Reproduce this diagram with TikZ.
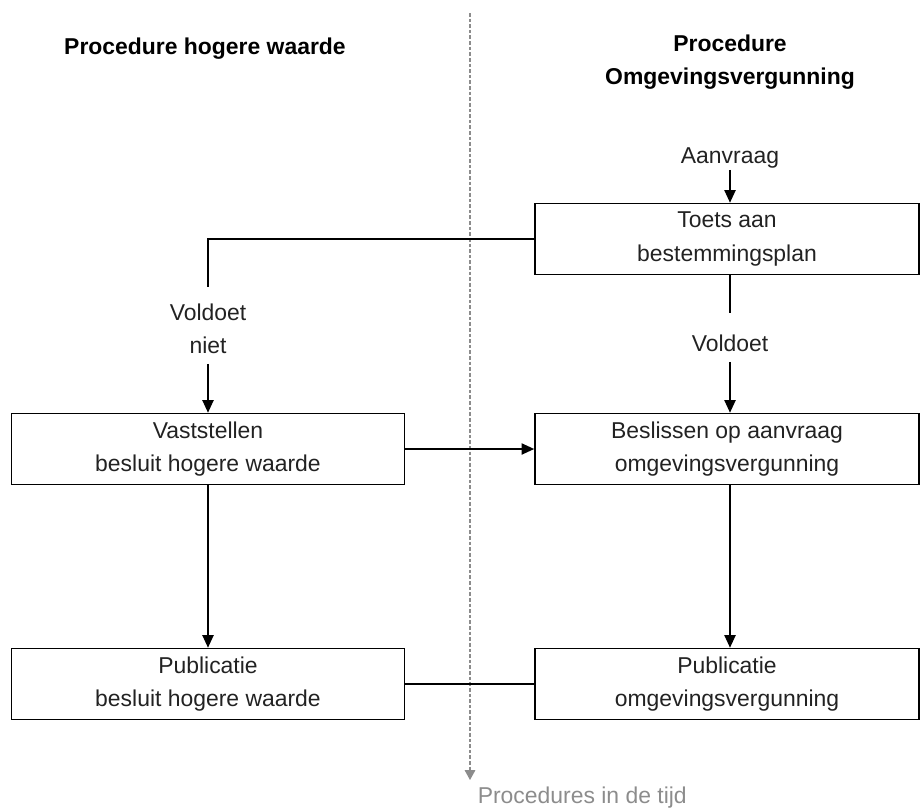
\documentclass[tikz,border=0pt]{standalone}
\usepackage{fontspec}
\setmainfont{Liberation Sans}
\usetikzlibrary{arrows.meta}
\definecolor{tekst}{HTML}{222222}
\definecolor{tijdlijn}{HTML}{8C8C8C}
\begin{document}
\begin{tikzpicture}[x=0.025cm, y=-0.025cm, line width=1.1pt,
  >={Triangle[length=9pt,width=8pt]},
  every node/.style={font=\fontsize{16.3}{23.5}\selectfont, text=tekst, align=center},
  titel/.style={font=\fontsize{16.3}{23.5}\selectfont\bfseries, text=black},
  blok/.style={draw, minimum height=1.775cm, inner sep=0pt},
  blokL/.style={blok, minimum width=9.825cm},
  blokR/.style={blok, minimum width=9.6cm},
  keuze/.style={inner sep=6.8pt}]
  \useasboundingbox (0,0) rectangle (920,809);

  \coordinate (tijdBegin) at (470,13);
  \coordinate (tijdEind)  at (470,780);
  \node [text=tijdlijn, anchor=west, inner sep=0pt] (tijd) at (477,798) {Procedures in de tijd};
  \draw [tijdlijn, line width=0.8pt, dash pattern=on 2.5pt off 1.5pt,
         -{Triangle[length=7pt,width=7.5pt]}] (tijdBegin) -- (tijdEind);

  \node [titel] (titelHW) at (205,49) {Procedure hogere waarde};
  \node [titel] (titelOV) at (730,62) {Procedure\\Omgevingsvergunning};

  \node [inner sep=1pt] (aanvraag) at (730,157.5) {Aanvraag};
  \node [blokR] (toets)       at (727,239)   {Toets aan\\bestemmingsplan};
  \node [keuze] (nietOk)      at (208,328.5) {Voldoet\\niet};
  \node [keuze] (ok)          at (730,343)   {Voldoet};
  \node [blokL] (vaststellen) at (208,449)   {Vaststellen\\besluit hogere waarde};
  \node [blokR] (beslissen)   at (727,449)   {Beslissen op aanvraag\\omgevingsvergunning};
  \node [blokL] (pubHW)       at (208,684)   {Publicatie\\besluit hogere waarde};
  \node [blokR] (pubOV)       at (727,684)   {Publicatie\\omgevingsvergunning};

  \coordinate (nietTop) at (208,287);
  \coordinate (okTop)   at (730,313);

  \draw [->] (aanvraag) -- (aanvraag |- toets.north);
  \draw (toets.west) -| (nietTop);
  \draw [->] (nietOk) -- (nietOk |- vaststellen.north);
  \draw (toets.south -| okTop) -- (okTop);
  \draw [->] (ok) -- (ok |- beslissen.north);
  \draw [->] (vaststellen) -- (beslissen);
  \draw [->] (vaststellen) -- (pubHW);
  \draw [->] (beslissen.south -| ok) -- (ok |- pubOV.north);
  \draw (pubHW) -- (pubOV);
\end{tikzpicture}
\end{document}
